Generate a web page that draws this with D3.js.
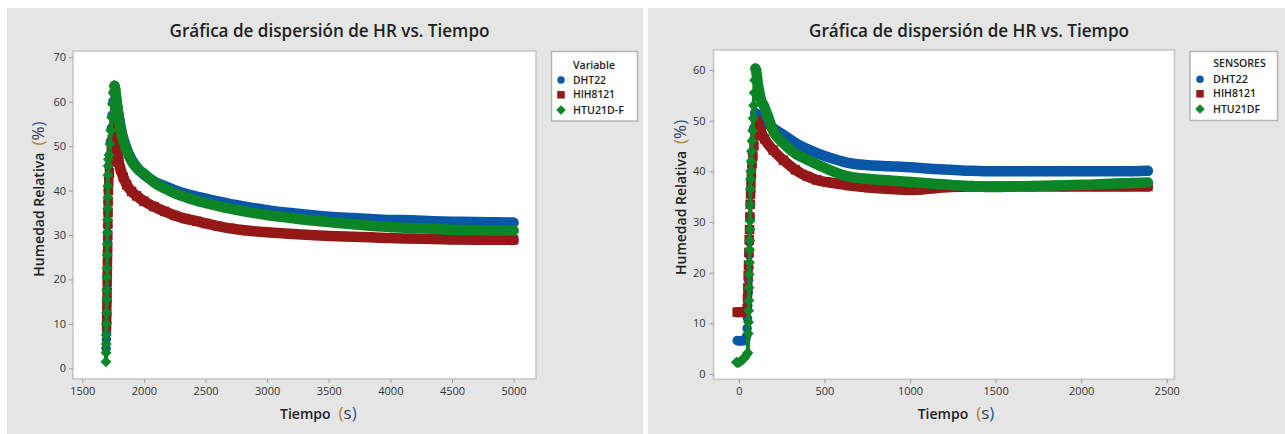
<!DOCTYPE html>
<html>
<head>
<meta charset="utf-8">
<script src="https://cdn.jsdelivr.net/npm/d3@7"></script>
<style>
  body { margin: 0; background: #ffffff; }
  svg { display: block; }
  text { font-family: "Open Sans", "Noto Sans", sans-serif; }
</style>
</head>
<body>
<svg id="chart" width="1285" height="434"></svg>
<script>
// ---- data: [tiempo (s), humedad relativa (%)] ----
const leftDHT22 = [
  [1693,4.5],[1695,6.5],[1697,8],[1699,12],[1700,15],[1701,18],[1702,21],[1703,24],[1704,26.5],
  [1705,29],[1706,32],[1707,35],[1708,37.5],[1710,40],[1712,43],[1715,45.5],[1720,48],[1728,51],
  [1735,54],[1742,57],[1748,60],[1755,62],[1762,62.3],[1770,61.5],[1780,59.5],[1795,57],[1810,54.5],
  [1830,52],[1850,50.2],[1875,48.4],[1900,47],[1950,45],[2000,43.6],[2050,42.6],[2100,41.8],
  [2168,41.0],[2250,40.1],[2350,39.2],[2500,38.2],[2650,37.3],[2836,36.3],[3000,35.6],[3170,35.0],
  [3350,34.5],[3504,34.1],[3700,33.8],[3838,33.6],[4000,33.4],[4172,33.3],[4350,33.1],[4506,33.0],
  [4700,32.9],[4850,32.85],[5000,32.8]
];
const leftHIH8121 = [
  [1697,9.5],[1698,11],[1699,13],[1700,15],[1701,17],[1702,19.5],[1703,21.5],[1704,23.5],[1705,25.5],
  [1706,27.5],[1707,30],[1708,32.5],[1709,35],[1710,37.5],[1712,40],[1715,42],[1720,44],[1727,46.5],
  [1735,49],[1743,51.5],[1752,54],[1760,56],[1766,56.5],[1772,54],[1778,51],[1785,48.5],[1795,46.5],
  [1810,44.8],[1833,43],[1860,41.3],[1900,39.8],[1941,38.8],[2000,37.6],[2080,36.4],[2168,35.3],
  [2250,34.4],[2335,33.7],[2428,33.1],[2502,32.6],[2600,32.0],[2700,31.5],[2836,31.0],[3000,30.6],
  [3170,30.3],[3350,30.0],[3504,29.8],[3700,29.6],[3838,29.5],[4000,29.3],[4172,29.2],[4350,29.1],
  [4506,29.0],[4700,28.95],[5000,28.9]
];
const leftHTU21DF = [
  [1692,1.5],[1693,3.5],[1694,5.5],[1695,7.5],[1696,10],[1697,12.5],[1698,15.5],[1699,17.5],[1700,20.5],
  [1701,22.5],[1702,25.5],[1703,28],[1704,30.5],[1705,33.5],[1706,36],[1707,38.5],[1708,41],[1709,43.5],
  [1710,45.5],[1712,47],[1718,48],[1725,50.5],[1732,53.5],[1738,56.5],[1744,59.5],[1750,62],[1756,63.5],
  [1762,63.6],[1768,62.8],[1775,61],[1785,58.5],[1797,56],[1810,54],[1830,51.5],[1850,49.8],[1875,48],
  [1900,46.6],[1950,44.8],[2000,43.8],[2050,42.6],[2100,41.5],[2168,40.5],[2250,39.4],[2350,38.4],
  [2500,37.2],[2650,36.2],[2836,35.2],[3000,34.5],[3170,33.9],[3350,33.3],[3504,32.9],[3700,32.4],
  [3838,32.1],[4000,31.8],[4172,31.6],[4350,31.4],[4506,31.2],[4700,31.1],[4850,31.0],[5000,31.0]
];

const rightDHT22 = [
  [-10,6.6],[0,6.5],[10,6.6],[20,6.5],[30,6.6],[40,6.8],[45,7.5],[48,9],[50,11],[52,13.5],[54,16],
  [56,18.5],[58,21],[60,23.5],[62,26],[64,28.5],[66,31],[68,33.5],[70,36],[72,38.5],[75,41],[78,43.5],
  [82,46],[86,48.5],[90,50.5],[95,51.5],[105,51.3],[120,50.8],[150,50],[200,48.5],[260,47.2],
  [330,45.6],[400,44.4],[455,43.6],[550,42.5],[650,41.6],[760,41.2],[880,41.0],[1000,40.8],
  [1120,40.5],[1240,40.3],[1360,40.1],[1500,40.0],[1700,40.0],[1900,40.0],[2100,40.0],[2250,40.0],
  [2390,40.1]
];
const rightHIH8121 = [
  [-10,12.2],[0,12.2],[10,12.1],[20,12.2],[30,12.3],[40,12.2],[48,13],[50,15],[52,17],[54,19.5],
  [56,21.5],[58,24],[60,26.5],[62,28.5],[64,31],[66,33.5],[68,35.5],[70,37.5],[73,39.5],[77,41.5],
  [82,43],[88,45],[94,47],[100,49],[106,49.9],[115,49],[130,47.8],[150,46.4],[200,44.2],[260,42.2],
  [330,40.3],[400,39.0],[455,38.3],[550,37.7],[650,37.2],[760,36.8],[880,36.5],[1000,36.3],
  [1120,36.6],[1240,36.9],[1360,37.0],[1500,37.0],[1700,37.0],[1900,37.0],[2100,37.0],[2250,37.0],
  [2390,37.0]
];
const rightHTU21DF = [
  [-15,2.3],[-5,2.2],[5,2.4],[15,2.6],[25,2.9],[35,3.3],[45,3.8],[52,4.2],[54,8],[56,10.2],[57,12.5],
  [58,14.5],[59,17],[60,19.7],[61,22],[62,24.5],[63,26.4],[64,28.5],[65,30.2],[66,33.4],[67,36.5],
  [68,38.5],[70,40],[72,42],[74,44],[77,46],[80,48],[83,50.5],[86,53],[89,55.5],[92,58],[96,60.3],
  [100,60],[106,58.5],[112,57],[120,55.5],[130,54],[145,53],[165,51.3],[200,48.0],[260,45.5],
  [330,43.5],[400,42.3],[455,41.4],[550,40.0],[650,38.9],[760,38.5],[880,38.2],[1000,37.9],
  [1120,37.6],[1240,37.3],[1360,37.1],[1480,36.9],[1600,37.0],[1720,37.1],[1840,37.2],[1960,37.3],
  [2080,37.4],[2200,37.6],[2300,37.7],[2390,37.8]
];

const leftXTicks = [1500, 2000, 2500, 3000, 3500, 4000, 4500, 5000];
const leftYTicks = [0, 10, 20, 30, 40, 50, 60, 70];
const rightXTicks = [0, 500, 1000, 1500, 2000, 2500];
const rightYTicks = [0, 10, 20, 30, 40, 50, 60];

const leftNames = ["DHT22", "HIH8121", "HTU21D-F"];
const rightNames = ["DHT22", "HIH8121", "HTU21DF"];
const legendTitles = ["Variable", "SENSORES"];
const chartTitle = "Gráfica de dispersión de HR vs. Tiempo";

// ---- styling ----
const colors = ["#0a57a8", "#941818", "#0b8526"];
const symbols = ["circle", "square", "diamond"];

const svg = d3.select("#chart");

function markerPath(kind, size) {
  if (kind === "circle") return d3.symbol(d3.symbolCircle, Math.PI * (size / 2) ** 2)();
  if (kind === "square") return d3.symbol(d3.symbolSquare, size * size)();
  // diamond: square turned 45 degrees, `size` is its full width
  const h = size / 2;
  return `M0,${-h}L${h},0L0,${h}L${-h},0Z`;
}

function fitText(sel, width) {
  const n = sel.node();
  const w = n.getComputedTextLength();
  const fs = parseFloat(sel.style("font-size"));
  sel.style("font-size", (fs * width / w).toFixed(2) + "px");
}

function drawPanel(p) {
  const g = svg.append("g");

  g.append("rect").attr("x", p.bg[0]).attr("y", p.bg[1])
    .attr("width", p.bg[2]).attr("height", p.bg[3]).attr("fill", "#e5e5e5");

  const x = d3.scaleLinear().domain(p.xDomain).range([p.plot.x0, p.plot.x1]);
  const y = d3.scaleLinear().domain(p.yDomain).range([p.plot.y1, p.plot.y0]);

  g.append("rect").attr("x", p.plot.x0).attr("y", p.plot.y0)
    .attr("width", p.plot.x1 - p.plot.x0).attr("height", p.plot.y1 - p.plot.y0)
    .attr("fill", "#ffffff").attr("stroke", "#c4c4c4").attr("stroke-width", 1.5);

  // axes
  const ax = g.append("g").attr("transform", `translate(0,${p.plot.y1})`)
    .call(d3.axisBottom(x).tickValues(p.xTicks).tickSize(4).tickPadding(4).tickFormat(d3.format("d")));
  const ay = g.append("g").attr("transform", `translate(${p.plot.x0},0)`)
    .call(d3.axisLeft(y).tickValues(p.yTicks).tickSize(4).tickPadding(p.yPad).tickFormat(d3.format("d")));
  [ax, ay].forEach(a => {
    a.select(".domain").remove();
    a.selectAll(".tick line").attr("stroke", "#9a9a9a");
    a.selectAll(".tick text").attr("fill", "#333").style("font-size", "11px")
      .style("font-family", "'Open Sans', sans-serif");
  });

  // series: thin trace through the rise, thick band from the peak on, marker at every reading
  p.series.forEach((pts, i) => {
    const c = colors[i];
    const peak = d3.maxIndex(pts, d => d[1]);
    const rise = d3.line().x(d => x(d[0])).y(d => y(d[1]));
    const decay = d3.line().x(d => x(d[0])).y(d => y(d[1])).curve(d3.curveMonotoneX);
    g.append("path").datum(pts.slice(0, peak + 1)).attr("d", rise)
      .attr("fill", "none").attr("stroke", c).attr("stroke-width", 4).attr("stroke-linejoin", "round");
    g.append("path").datum(pts.slice(peak)).attr("d", decay)
      .attr("fill", "none").attr("stroke", c).attr("stroke-width", 10.5)
      .attr("stroke-linejoin", "round").attr("stroke-linecap", "round");
    g.append("g").selectAll("path").data(pts).join("path")
      .attr("transform", d => `translate(${x(d[0])},${y(d[1])})`)
      .attr("d", markerPath(symbols[i], symbols[i] === "diamond" ? 11 : 9.5))
      .attr("fill", c);
  });

  // title
  const t = g.append("text").attr("x", p.titleX).attr("y", 36.5).attr("text-anchor", "middle")
    .style("font-size", "16px").style("font-weight", 600).attr("fill", "#222").text(chartTitle);
  fitText(t, 320);

  // x axis title
  const xt = g.append("text").attr("x", p.xTitle[0]).attr("y", p.xTitle[1])
    .attr("fill", "#222").style("font-size", "14px").style("font-weight", 600);
  xt.append("tspan").text("Tiempo");
  xt.append("tspan").attr("dx", 8).style("font-size", "17px").style("font-weight", 400)
    .attr("fill", "#b08030").text("(");
  xt.append("tspan").style("font-size", "17px").style("font-weight", 400).attr("fill", "#2e3e5c").text("s");
  xt.append("tspan").style("font-size", "17px").style("font-weight", 400).attr("fill", "#2f5590").text(")");

  // y axis title
  const yt = g.append("text").attr("transform", `translate(${p.yTitle[0]},${p.yTitle[1]}) rotate(-90)`)
    .attr("fill", "#222").style("font-size", "14px").style("font-weight", 600);
  yt.append("tspan").text("Humedad Relativa");
  yt.append("tspan").attr("dx", 7).style("font-size", "17px").style("font-weight", 400)
    .attr("fill", "#b08030").text("(");
  yt.append("tspan").style("font-size", "17px").style("font-weight", 400).attr("fill", "#2e3e5c").text("%");
  yt.append("tspan").style("font-size", "17px").style("font-weight", 400).attr("fill", "#2f5590").text(")");

  // legend
  const L = p.legend;
  const lg = g.append("g");
  lg.append("rect").attr("x", L.x).attr("y", L.y).attr("width", L.w).attr("height", L.h)
    .attr("fill", "#ffffff").attr("stroke", "#b4b4b4").attr("stroke-width", 1.5);
  const lt = lg.append("text").attr("x", L.titleX).attr("y", L.rows[0]).attr("dy", "0.35em")
    .attr("text-anchor", "middle").attr("fill", "#222").style("font-size", "10.5px")
    .style("font-weight", 600).text(p.legendTitle);
  fitText(lt, L.titleW);
  p.names.forEach((name, i) => {
    const yy = L.rows[i + 1];
    lg.append("path").attr("transform", `translate(${L.mx},${yy})`)
      .attr("d", markerPath(symbols[i], symbols[i] === "diamond" ? 9.5 : 7.5)).attr("fill", colors[i]);
    const it = lg.append("text").attr("x", L.tx).attr("y", yy).attr("dy", "0.35em").attr("fill", "#1e1e1e")
      .style("font-size", "11px").style("font-weight", 600).text(name);
    fitText(it, L.itemW[i]);
  });
}

drawPanel({
  bg: [7, 8, 636, 426],
  plot: { x0: 73, x1: 536, y0: 51, y1: 379 },
  xDomain: [1424.5, 5182], yDomain: [-2.4, 71.4],
  xTicks: leftXTicks, yTicks: leftYTicks, yPad: 3,
  series: [leftDHT22, leftHIH8121, leftHTU21DF],
  names: leftNames, legendTitle: legendTitles[0],
  titleX: 329.5,
  xTitle: [280, 419], yTitle: [44, 276.7],
  legend: { x: 551.5, y: 51.5, w: 86, h: 69.5, titleX: 594, titleW: 42,
            rows: [65, 80, 94.8, 110], mx: 561, tx: 573, itemW: [33, 42, 51] }
});

drawPanel({
  bg: [648, 8, 637, 426],
  plot: { x0: 713.6, x1: 1174.4, y0: 50, y1: 379.3 },
  xDomain: [-148, 2545], yDomain: [-1.05, 63.95],
  xTicks: rightXTicks, yTicks: rightYTicks, yPad: 4,
  series: [rightDHT22, rightHIH8121, rightHTU21DF],
  names: rightNames, legendTitle: legendTitles[1],
  titleX: 969,
  xTitle: [917.7, 419], yTitle: [685.8, 275],
  legend: { x: 1190, y: 51.5, w: 87.5, h: 69, titleX: 1239.5, titleW: 52.5,
            rows: [63.5, 79.3, 93.8, 109], mx: 1200, tx: 1213, itemW: [35, 43, 47] }
});
</script>
</body>
</html>
